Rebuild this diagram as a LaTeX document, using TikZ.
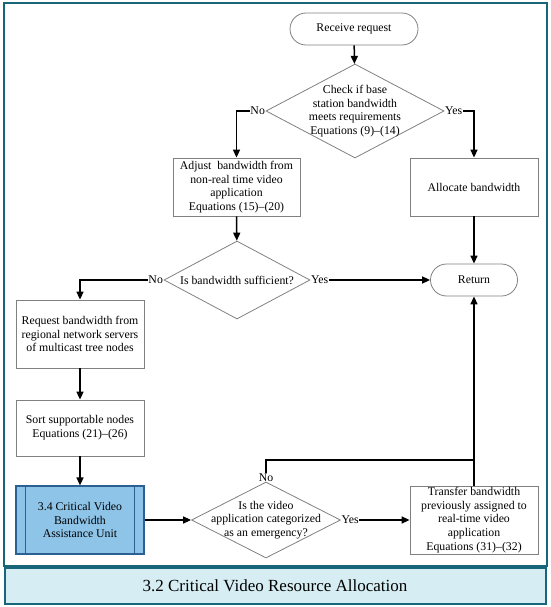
\documentclass[tikz,border=0pt]{standalone}
\usepackage{fontspec}
\setmainfont{Liberation Serif}
\usetikzlibrary{shapes.geometric,arrows.meta}
\definecolor{teal1}{RGB}{24,102,122}
\definecolor{titlefill}{RGB}{214,238,243}
\definecolor{cufill}{RGB}{141,196,232}
\definecolor{cuedge}{RGB}{44,96,146}
\definecolor{nodeedge}{RGB}{128,128,128}
\tikzset{
  txt/.style={font=\fontsize{11.8}{13.7}\selectfont, align=center},
  procbox/.style={draw=nodeedge, line width=0.8pt, fill=white, inner sep=0pt},
  termbox/.style={draw=nodeedge, line width=0.8pt, fill=white, rounded corners=16pt, inner sep=0pt},
  decbox/.style={diamond, draw=nodeedge, line width=0.8pt, fill=white, inner sep=0pt},
  lbl/.style={font=\fontsize{11.8}{13.7}\selectfont, inner sep=0.5pt},
  arr/.style={line width=1.5pt, -{Triangle[length=8pt,width=7pt]}},
  plain/.style={line width=1.5pt},
}
\begin{document}
\begin{tikzpicture}[x=1pt,y=-1pt]
\useasboundingbox (0,0) rectangle (550,607);
% frame
\node[draw=teal1, line width=2pt, minimum width=543pt, minimum height=563pt, inner sep=0pt] (frame) at (275,284.5) {};
\node[draw=teal1, line width=2pt, fill=titlefill, minimum width=541pt, minimum height=36pt, inner sep=0pt,
  font=\fontsize{17}{20}\selectfont] (title) at (275,585.5) {3.2 Critical Video Resource Allocation};

% nodes
\node[termbox, txt, minimum width=128pt, minimum height=32pt] (recv) at (354,29) {Receive request};
\node[decbox, minimum width=178pt, minimum height=94pt] (d1) at (355,111) {};
\node[txt] (d1t) at (d1) {Check if base\\station bandwidth\\meets requirements\\Equations (9)--(14)};
\node[procbox, txt, minimum width=127pt, minimum height=58pt] (adj) at (236.5,187) {Adjust\ \ bandwidth from\\non-real time video\\application\\Equations (15)--(20)};
\node[procbox, txt, minimum width=128pt, minimum height=58pt] (alloc) at (474,187) {Allocate bandwidth};
\node[decbox, minimum width=146pt, minimum height=78pt] (d2) at (237,280) {};
\node[txt] (d2t) at (d2) {Is bandwidth sufficient?};
\node[termbox, txt, minimum width=87pt, minimum height=32pt] (ret) at (474,280) {Return};
\node[procbox, txt, minimum width=128pt, minimum height=68pt] (req) at (80,334) {Request bandwidth from\\regional network servers\\of multicast tree nodes};
\node[procbox, txt, minimum width=128pt, minimum height=56pt] (sort) at (80,428) {Sort supportable nodes\\Equations (21)--(26)};
\node[draw=cuedge, line width=1.2pt, fill=cufill, txt, minimum width=128pt, minimum height=68pt, inner sep=0pt] (cu) at (80,520) {3.4 Critical Video\\Bandwidth\\Assistance Unit};
\draw[cuedge, line width=1.2pt] ([xshift=10pt]cu.north west) -- ([xshift=10pt]cu.south west);
\draw[cuedge, line width=1.2pt] ([xshift=-10pt]cu.north east) -- ([xshift=-10pt]cu.south east);
\node[decbox, minimum width=149pt, minimum height=76pt] (d3) at (266,520) {};
\node[txt] (d3t) at (d3) {Is the video\\application categorized\\as an emergency?};
\node[procbox, txt, minimum width=128pt, minimum height=68pt] (tr) at (474,520) {Transfer bandwidth\\previously assigned to\\real-time video\\application\\Equations (31)--(32)};

% labels
\node[lbl, anchor=east] (no1) at (d1.west) {No};
\node[lbl, anchor=west] (yes1) at (d1.east) {Yes};
\node[lbl, anchor=east] (no2) at (d2.west) {No};
\node[lbl, anchor=west] (yes2) at (d2.east) {Yes};
\node[lbl, anchor=south] (no3) at ([yshift=-1pt]d3.north) {No};
\node[lbl, anchor=west] (yes3) at (d3.east) {Yes};
\coordinate (j3) at (474,460);

% connectors
\draw[arr] (recv) -- (d1);
\draw[arr] (no1.west) -| (adj.north);
\draw[arr] (yes1.east) -| (alloc.north);
\draw[arr] (adj) -- (d2);
\draw[arr] (alloc) -- (ret);
\draw[arr] (yes2.east) -- (ret.west);
\draw[arr] (no2.west) -| (req.north);
\draw[arr] (req) -- (sort);
\draw[arr] (sort) -- (cu);
\draw[arr] (cu) -- (d3);
\draw[arr] (yes3.east) -- (tr.west);
\draw[arr] (tr) -- (ret);
\draw[plain] (no3.north) |- (j3);
\end{tikzpicture}
\end{document}
